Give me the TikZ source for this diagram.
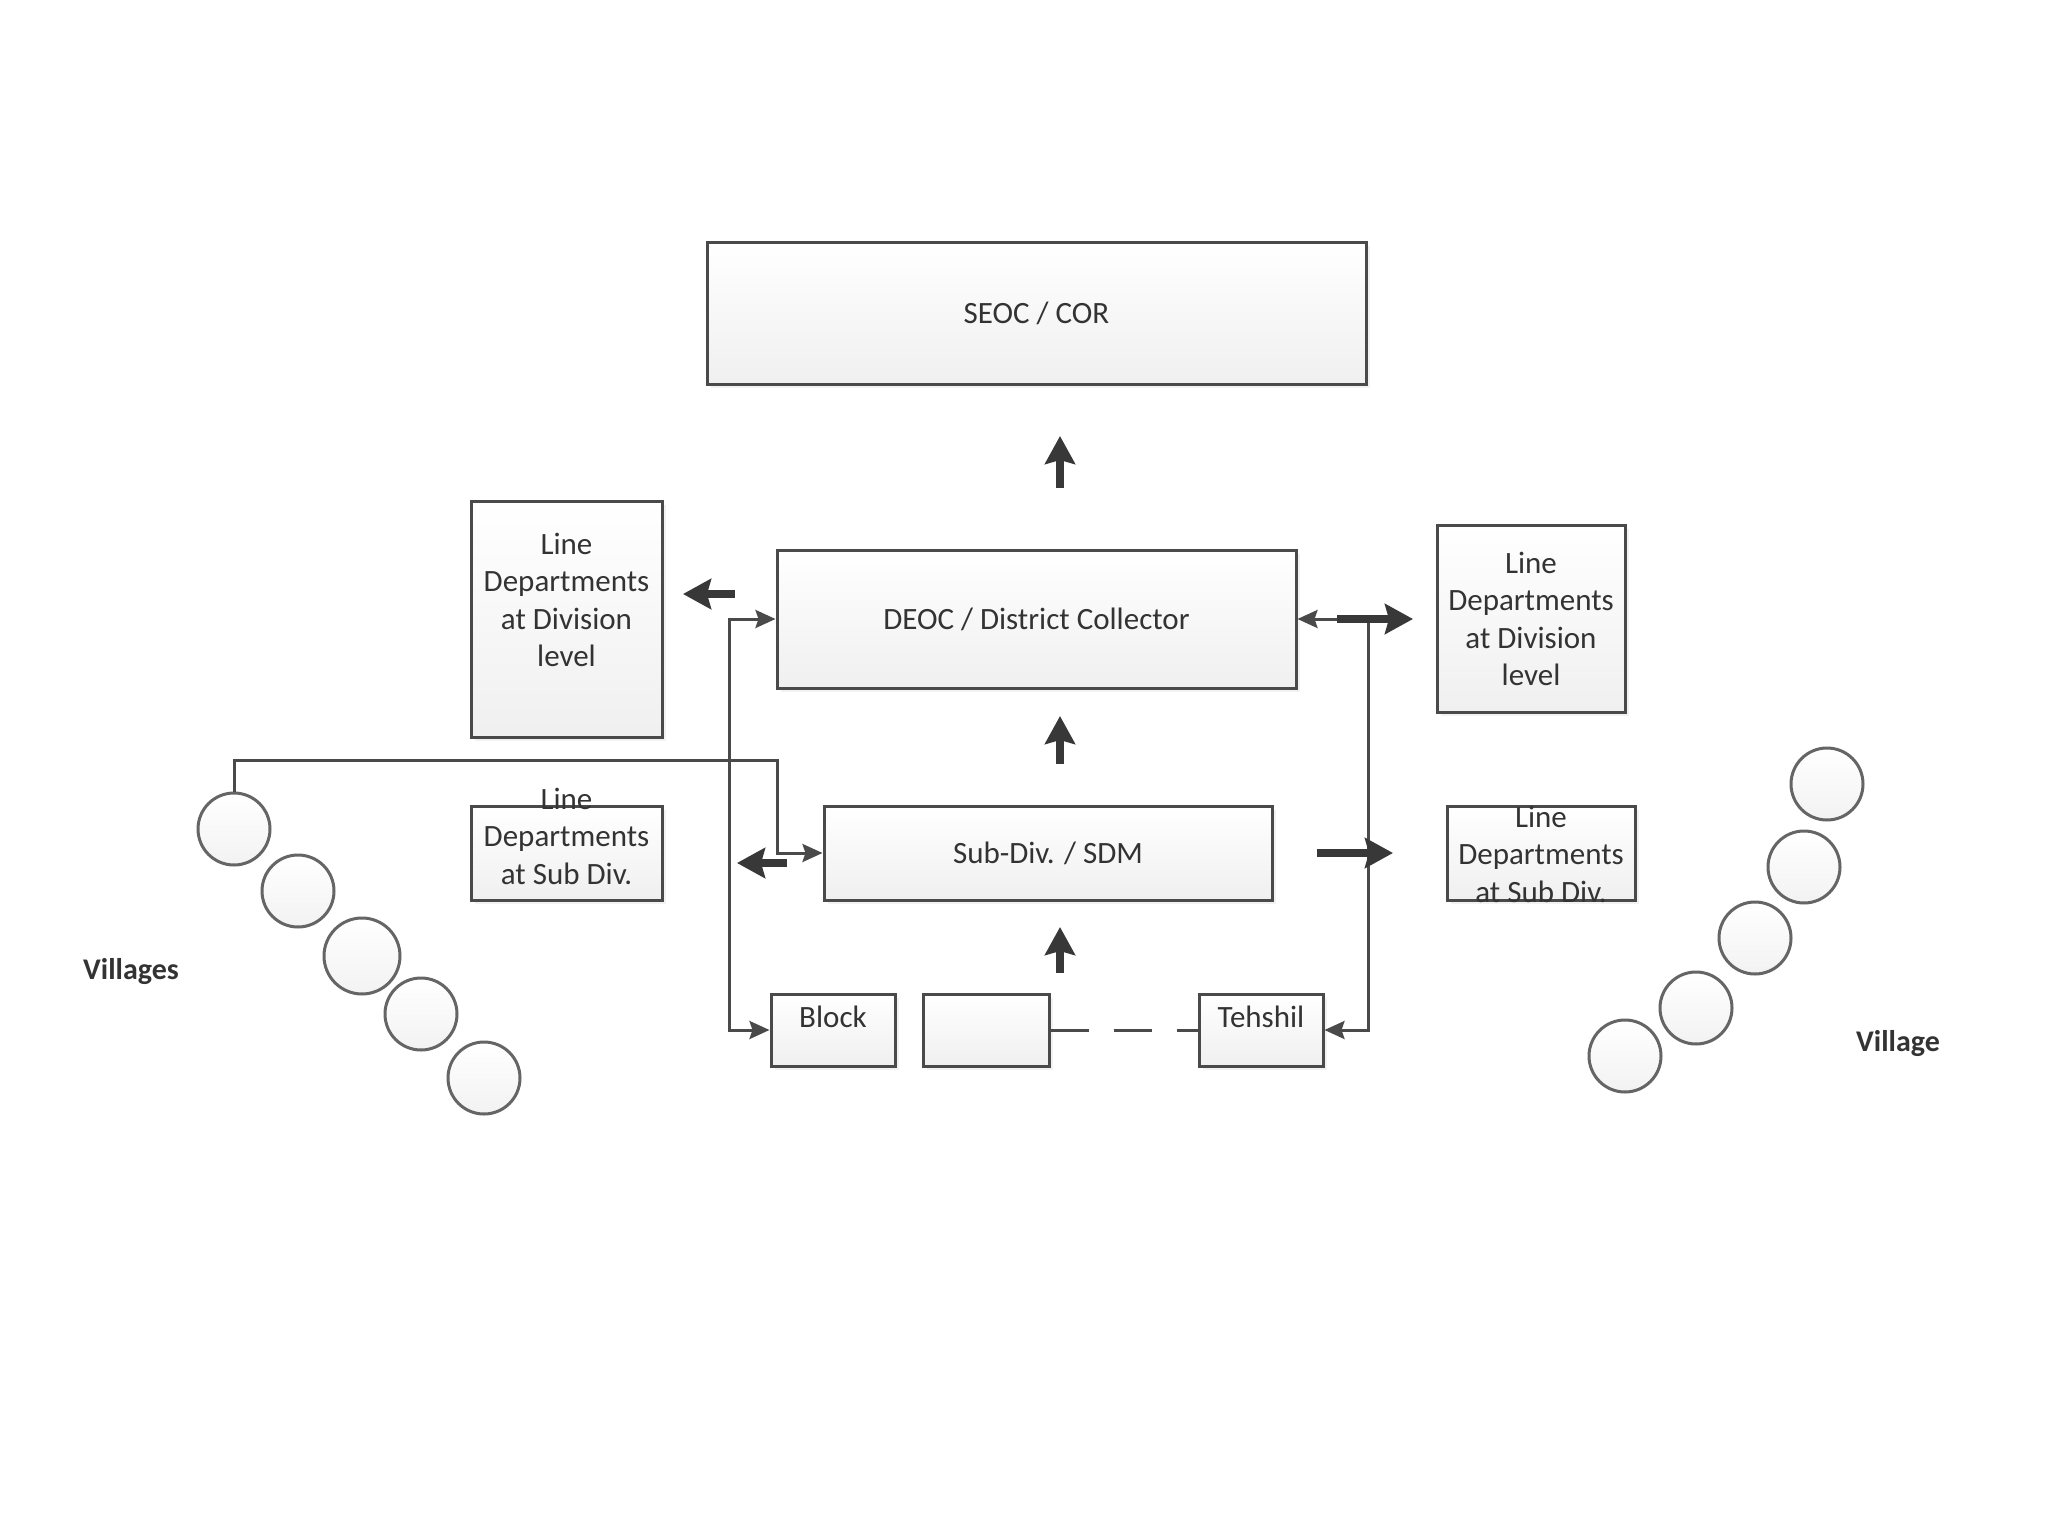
\documentclass[tikz,border=0pt]{standalone}
\usepackage{fontspec}
\setmainfont{Carlito}
\usetikzlibrary{arrows.meta,shadows}
\definecolor{ln}{HTML}{4A4A4A}
\definecolor{tx}{HTML}{333333}
\tikzset{
  box/.style={draw=ln, line width=3pt, top color=white, bottom color=black!6,
    drop shadow={opacity=0.10, shadow xshift=4pt, shadow yshift=-4pt},
    inner sep=0pt, text=tx, font=\fontsize{31}{37.5}\selectfont},
  txt/.style={text=tx, font=\fontsize{31}{37.5}\selectfont, align=center, inner sep=0pt},
  vlab/.style={text=tx, font=\fontsize{30}{36}\selectfont\bfseries, inner sep=0pt},
  vil/.style={circle, draw=ln!85, line width=3pt, top color=white, bottom color=black!5,
    minimum size=72pt, inner sep=0pt},
  conn/.style={draw=ln, line width=3pt},
  thintip/.style={-{Stealth[length=20pt,width=18pt,inset=3pt]}},
  big/.style={draw=black!78, line width=8pt, -{Stealth[length=28pt,width=30pt,inset=4pt]}},
}
\begin{document}
\begin{tikzpicture}[x=1pt,y=-1pt]
\fill[white] (0,0) rectangle (2048,1536);
\useasboundingbox (0,0) rectangle (2048,1536);

% main boxes
\node[box, minimum width=659pt, minimum height=142pt] (seoc) at (1036.5,313) {SEOC / COR};
\node[box, minimum width=519pt, minimum height=138pt] (deoc) at (1036.5,619) {DEOC / District Collector};
\node[box, minimum width=448pt, minimum height=94pt] (sdm) at (1048,853) {Sub-Div. / SDM};

% line departments
\node[box, minimum width=191pt, minimum height=236pt] (lddl) at (566.5,619) {};
\node[txt] (lddlt) at (566.5,600) {Line\\Departments\\at Division\\level};
\node[box, minimum width=188pt, minimum height=187pt] (lddr) at (1531,618.5) {};
\node[txt] (lddrt) at (1531,619) {Line\\Departments\\at Division\\level};
\node[box, minimum width=191pt, minimum height=94pt] (ldsl) at (566.5,853) {};
\node[txt] (ldslt) at (566.5,836) {Line\\Departments\\at Sub Div.};
\node[box, minimum width=188pt, minimum height=94pt] (ldsr) at (1541,853) {};
\node[txt] (ldsrt) at (1541,854) {Line\\Departments\\at Sub Div.};

% bottom row
\node[box, minimum width=124pt, minimum height=72pt] (block) at (833,1030) {};
\node[txt] (blockt) at (833,1017) {Block};
\node[box, minimum width=126pt, minimum height=72pt] (empty) at (986,1030) {};
\node[box, minimum width=124pt, minimum height=72pt] (teh) at (1261,1030) {};
\node[txt] (teht) at (1261,1017) {Tehshil};

% villages left
\node[vil] (vl1) at (234,829) {};
\node[vil] (vl2) at (298,891) {};
\node[vil, minimum size=76pt] (vl3) at (362,956) {};
\node[vil] (vl4) at (421,1014) {};
\node[vil] (vl5) at (484,1078) {};
\node[vlab] (vllab) at (131,972) {Villages};

% villages right
\node[vil] (vr1) at (1827,784) {};
\node[vil] (vr2) at (1804,867) {};
\node[vil] (vr3) at (1755,938) {};
\node[vil] (vr4) at (1696,1008) {};
\node[vil] (vr5) at (1625,1056) {};
\node[vlab] (vrlab) at (1898,1044) {Village};

% thin connectors
\coordinate (lbus) at (729,800);
\coordinate (rbus) at (1368,800);
\coordinate (hb) at (777,760);
\draw[conn, {Stealth[length=20pt,width=18pt,inset=3pt]}-{Stealth[length=20pt,width=18pt,inset=3pt]}]
  (deoc.west) -| (lbus) |- (block.west);
\draw[conn, thintip] (vl1.north) |- (hb) |- (sdm.west);
\draw[conn, {Stealth[length=20pt,width=18pt,inset=3pt]}-{Stealth[length=20pt,width=18pt,inset=3pt]}]
  (deoc.east) -| (rbus) |- (teh.east);
\draw[conn, dash pattern=on 38pt off 25pt] (empty.east) -- (teh.west);

% thick arrows
\coordinate (u1s) at (1060,488); \coordinate (u1e) at (1060,436);
\coordinate (u2s) at (1060,764); \coordinate (u2e) at (1060,716);
\coordinate (u3s) at (1060,973); \coordinate (u3e) at (1060,927);
\coordinate (l1s) at (735,594);  \coordinate (l1e) at (683,594);
\coordinate (l2s) at (787,863);  \coordinate (l2e) at (737,863);
\coordinate (r1s) at (1337,619); \coordinate (r1e) at (1413,619);
\coordinate (r2s) at (1317,853); \coordinate (r2e) at (1393,853);
\draw[big] (u1s) -- (u1e);
\draw[big] (u2s) -- (u2e);
\draw[big] (u3s) -- (u3e);
\draw[big] (l1s) -- (l1e);
\draw[big] (l2s) -- (l2e);
\draw[big] (r1s) -- (r1e);
\draw[big] (r2s) -- (r2e);
\end{tikzpicture}
\end{document}
